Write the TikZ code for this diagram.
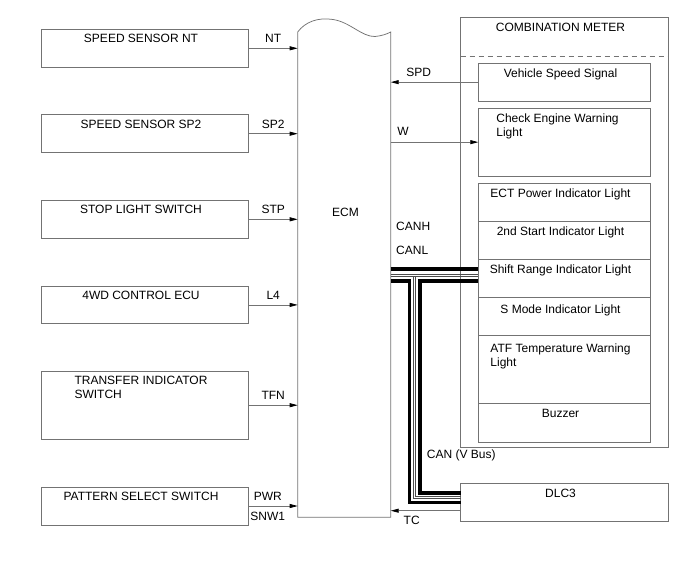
\documentclass[tikz,border=0pt]{standalone}
\usepackage{fontspec}
\setmainfont{Liberation Sans}
\usetikzlibrary{arrows.meta,positioning}

\begin{document}
\begin{tikzpicture}[
  x=1pt, y=-1pt,
  font=\fontsize{12}{14}\selectfont,
  box/.style={draw=black!55, line width=0.75pt, inner sep=0pt, outer sep=0pt,
              minimum width=207.4pt, minimum height=38pt},
  lamp/.style={box, minimum width=172.4pt},
  ttl/.style={anchor=north, inner sep=0pt, yshift=-5pt, xshift=-4pt, align=left},
  arr/.style={draw=black!55, line width=0.75pt,
              -{Triangle[length=8pt,width=4pt,color=black]}},
  sig/.style={inner sep=1pt},
  bus/.style={line width=3.6pt},
  wire/.style={draw=black!70, line width=0.7pt},
]
\useasboundingbox (0,0) rectangle (688,560);

% ---- inputs ----
\node[box, label={[ttl]north:SPEED SENSOR NT}]  (NT)  at (145,48.3)  {};
\node[box, label={[ttl]north:SPEED SENSOR SP2}] (SP2) at (145,133.7) {};
\node[box, label={[ttl]north:STOP LIGHT SWITCH}] (STP) at (145,219.3) {};
\node[box, minimum height=37.7pt, label={[ttl]north:4WD CONTROL ECU}] (L4) at (145,304.9) {};
\node[box, minimum height=68.3pt, label={[ttl]north:TRANSFER INDICATOR\\SWITCH}] (TFN) at (145,405.2) {};
\node[box, label={[ttl]north:PATTERN SELECT SWITCH}] (PSW) at (145,506) {};

% ---- ECM ----
\node[inner sep=0pt, outer sep=0pt, minimum width=93pt, minimum height=485.3pt] (ECM) at (344.2,274.65) {};
\draw[draw=black!55, line width=0.75pt] (ECM.south west) -- (ECM.north west)
  .. controls (305,22) and (318,17) .. (333,19.5)
  .. controls (350,22) and (362,37) .. (375,36.5)
  .. controls (382,35.8) and (387,34) .. (ECM.north east) -- (ECM.south east) -- cycle;
\node (ECMtxt) at (345.5,212.3) {ECM};

% ---- combination meter ----
\node[box, minimum width=207.6pt, minimum height=429.3pt,
      label={[ttl]north:COMBINATION METER}] (CMB) at (564.5,232.35) {};
\draw[draw=black!55, line width=0.75pt, dash pattern=on 5pt off 4pt] (CMB.west |- 0,56) -- (CMB.east |- 0,56);
\node[lamp, minimum height=37.7pt, label={[ttl]north:Vehicle Speed Signal}] (VSS) at (564.5,82.15) {};
\node[lamp, minimum height=67.7pt, label={[ttl, xshift=-3pt]north:Check Engine Warning\\Light}] (CEW) at (564.5,142.15) {};
\node[lamp, minimum height=38.4pt, label={[ttl]north:ECT Power Indicator Light}] (ECT) at (564.5,202.5) {};
\node[lamp, minimum height=37.6pt, below=0pt of ECT, label={[ttl]north:2nd Start Indicator Light}] (SSI) {};
\node[lamp, minimum height=38pt, below=0pt of SSI, label={[ttl]north:Shift Range Indicator Light}] (SRI) {};
\node[lamp, minimum height=38pt, below=0pt of SRI, label={[ttl, yshift=-2pt]north:S Mode Indicator Light}] (SMI) {};
\node[lamp, minimum height=68.4pt, below=0pt of SMI, label={[ttl, yshift=-3pt]north:ATF Temperature Warning\\Light}] (ATF) {};
\node[lamp, minimum height=38.3pt, below=0pt of ATF, label={[ttl]north:Buzzer}] (BZR) {};

% ---- DLC3 ----
\node[box, minimum width=207.6pt, minimum height=37.6pt, label={[ttl]north:DLC3}] (DLC) at (564.5,502.5) {};

% ---- signal lines ----
\foreach \s/\t in {NT/NT, SP2/SP2, STP/STP, L4/L4, TFN/TFN}
  \draw[arr] (\s.east) -- (\s.east -| ECM.west) node[sig, midway, above=4pt] {\t};
\draw[arr] (PSW.east) -- (PSW.east -| ECM.west)
  node[sig, pos=0.39, above=4pt] {PWR} node[sig, pos=0.39, below=4.4pt] {SNW1};
\draw[arr] (VSS.west) -- (VSS.west -| ECM.east) node[sig, pos=0.68, above=4.4pt] {SPD};
\draw[arr] (ECM.east |- CEW.west) -- (CEW.west) node[sig, pos=0.14, above=5.7pt] {W};
\draw[arr] ([yshift=-8.2pt]DLC.west) -- ([yshift=-8.2pt]DLC.west -| ECM.east)
  node[sig, pos=0.7, below=4pt] {TC};

% ---- CAN (V Bus) ----
\draw[bus]  (ECM.east |- 0,269.2) -- (SRI.west |- 0,269.2);
\draw[wire] (ECM.east |- 0,274) -- (SRI.west |- 0,274);
\draw[wire] (ECM.east |- 0,276.2) -- (SRI.west |- 0,276.2);
\draw[bus]  (ECM.east |- 0,280.8) -| (409.3,502.3) -- (DLC.west |- 0,502.3);
\draw[bus]  (SRI.west |- 0,280.8) -| (420,492.7) -- (DLC.west |- 0,492.7);
\draw[wire] (413.3,276.2) |- (DLC.west |- 0,498.4);
\draw[wire] (415.7,276.2) |- (DLC.west |- 0,496.5);
\node[anchor=west, inner sep=0pt] (CANH) at (396,226.7) {CANH};
\node[anchor=west, inner sep=0pt] (CANL) at (396,250.7) {CANL};
\node[anchor=west, inner sep=0pt] (VBUS) at (426.7,455) {CAN (V Bus)};
\end{tikzpicture}
\end{document}
